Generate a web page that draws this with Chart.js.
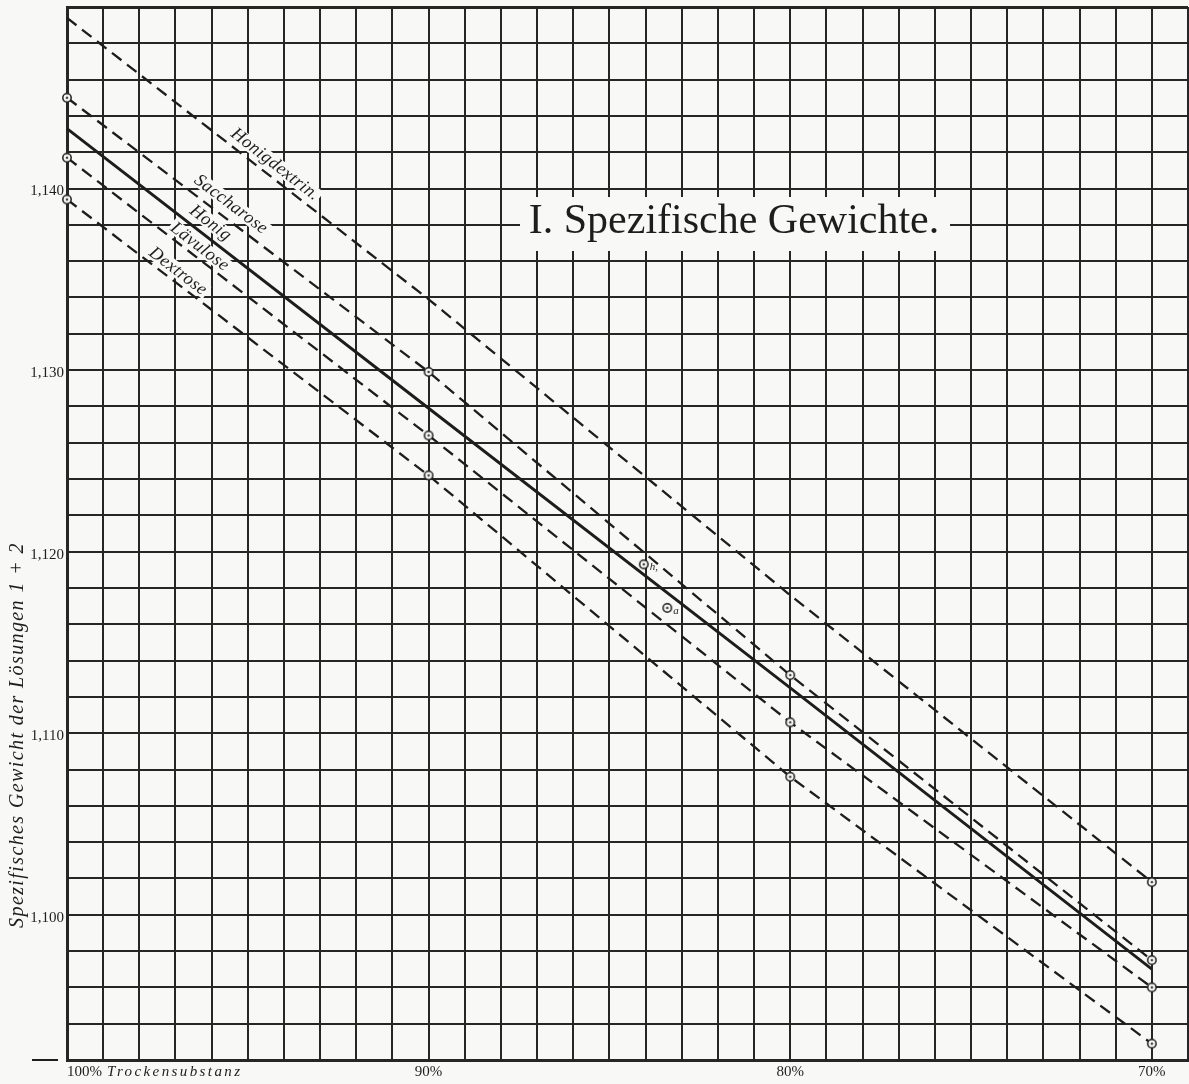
<!DOCTYPE html>
<html>
<head>
<meta charset="utf-8">
<title>I. Spezifische Gewichte</title>
<script src="https://cdn.jsdelivr.net/npm/chart.js@4.4.1/dist/chart.umd.min.js"></script>
<style>
  html, body { margin: 0; padding: 0; background: #f8f8f6; }
  #rahmen { width: 1189px; height: 1084px; }
</style>
</head>
<body>
<div id="rahmen"><canvas id="grafico" width="1189" height="1084"></canvas></div>
<script>
// Trockensubstanz in Prozent (die x-Achse läuft von 100 % nach 70 %)
const trockensubstanz = [100, 90, 80, 70];

const honigdextrin = [1.1494, 1.1339, 1.1176, 1.1018];
const saccharose   = [1.1450, 1.1299, 1.1132, 1.0975];
const honig        = [1.1433, 1.1279, 1.1125, 1.0970];
const laevulose    = [1.1417, 1.1264, 1.1106, 1.0960];
const dextrose     = [1.1394, 1.1242, 1.1076, 1.0929];

// Einzelne Honigproben
const probenX = [84.05, 83.4];
const probenY = [1.1193, 1.1169];
const probenNamen = ['h,', 'a'];

// Achsenbeschriftung
const yTickWerte = [1.100, 1.110, 1.120, 1.130, 1.140];
const yTickTexte = ['1,100', '1,110', '1,120', '1,130', '1,140'];
const xTickWerte = [100, 90, 80, 70];
const xTickTexte = ['100%', '90%', '80%', '70%'];

const PAPIER = '#f8f8f6';
const TINTE = '#1d1d1d';
const GITTER = '#262626';
const SERIF = '"Liberation Serif", "DejaVu Serif", serif';

// Kreis mit Punkt als Messpunkt-Markierung
function kreisMarke() {
    const c = document.createElement('canvas');
    c.width = 12; c.height = 12;
    const g = c.getContext('2d');
    g.beginPath();
    g.arc(6, 6, 4.2, 0, 2 * Math.PI);
    g.fillStyle = PAPIER;
    g.fill();
    g.lineWidth = 1.5;
    g.strokeStyle = TINTE;
    g.stroke();
    g.beginPath();
    g.arc(6, 6, 1.3, 0, 2 * Math.PI);
    g.fillStyle = '#444';
    g.fill();
    return c;
}
const marke = kreisMarke();

function punkte(werte) {
    return trockensubstanz.map((x, i) => ({ x: x, y: werte[i] }));
}

function linie(name, werte, radien, gestrichelt, breite) {
    return {
        label: name,
        data: punkte(werte),
        borderColor: TINTE,
        borderWidth: breite,
        borderDash: gestrichelt ? [12, 7] : [],
        pointStyle: marke,
        pointRadius: radien,
        pointHoverRadius: radien,
        tension: 0,
        fill: false,
        clip: false
    };
}

// Beschriftung an den Linien (Index der Reihe, Stelle in %, Abstand über der Linie)
const linienTexte = [
    { text: 'Honigdextrin.', reihe: 0, bei: 94.45, abstand: 12 },
    { text: 'Saccharose', reihe: 1, bei: 95.7, abstand: 14 },
    { text: 'Honig', reihe: 2, bei: 96.25, abstand: 13 },
    { text: 'Lävulose', reihe: 3, bei: 96.5, abstand: 10 },
    { text: 'Dextrose', reihe: 4, bei: 97.1, abstand: 10 }
];

function passt(v, liste) {
    return liste.findIndex(w => Math.abs(v - w) < 1e-6);
}

const zeichenPlugin = {
    id: 'tafel',
    beforeDraw(chart) {
        const ctx = chart.ctx;
        ctx.save();
        ctx.fillStyle = PAPIER;
        ctx.fillRect(0, 0, chart.width, chart.height);
        ctx.restore();
    },
    beforeDatasetsDraw(chart) {
        const ctx = chart.ctx;
        const xs = chart.scales.x, ys = chart.scales.y;

        // Titelfeld
        ctx.save();
        ctx.fillStyle = PAPIER;
        ctx.fillRect(520, 197, 430, 54);
        ctx.fillStyle = TINTE;
        ctx.font = '42px ' + SERIF;
        ctx.textAlign = 'center';
        ctx.textBaseline = 'alphabetic';
        ctx.fillText('I. Spezifische Gewichte.', 734, 233);
        ctx.restore();

        // Namen entlang der Linien
        linienTexte.forEach(t => {
            const d = chart.data.datasets[t.reihe].data;
            const x0 = xs.getPixelForValue(d[0].x), y0 = ys.getPixelForValue(d[0].y);
            const x1 = xs.getPixelForValue(d[1].x), y1 = ys.getPixelForValue(d[1].y);
            const winkel = Math.atan2(y1 - y0, x1 - x0);
            const px = xs.getPixelForValue(t.bei);
            const py = y0 + (px - x0) / (x1 - x0) * (y1 - y0);
            const cx = px + Math.sin(winkel) * t.abstand;
            const cy = py - Math.cos(winkel) * t.abstand;
            ctx.save();
            ctx.translate(cx, cy);
            ctx.rotate(winkel);
            ctx.font = 'italic 18px ' + SERIF;
            ctx.letterSpacing = '0.5px';
            const b = ctx.measureText(t.text).width;
            ctx.fillStyle = PAPIER;
            ctx.fillRect(-b / 2 - 2, -8, b + 4, 15);
            ctx.fillStyle = TINTE;
            ctx.textAlign = 'center';
            ctx.textBaseline = 'middle';
            ctx.fillText(t.text, 0, 0);
            ctx.restore();
        });
    },
    afterDraw(chart) {
        const ctx = chart.ctx;
        const xs = chart.scales.x, ys = chart.scales.y;
        const unten = chart.chartArea.bottom;

        // x-Beschriftung
        ctx.save();
        ctx.fillStyle = TINTE;
        ctx.textBaseline = 'middle';
        xTickWerte.forEach((w, i) => {
            const px = xs.getPixelForValue(w);
            ctx.font = '15px ' + SERIF;
            if (i === 0) {
                ctx.textAlign = 'left';
                ctx.fillText(xTickTexte[i], px, unten + 12);
                const b = ctx.measureText(xTickTexte[i]).width;
                ctx.font = 'italic 15px ' + SERIF;
                ctx.letterSpacing = '2.4px';
                ctx.fillText('Trockensubstanz', px + b + 5, unten + 12);
                ctx.letterSpacing = '0px';
            } else {
                ctx.textAlign = 'center';
                ctx.fillText(xTickTexte[i], px, unten + 12);
            }
        });
        ctx.restore();

        // kleiner Strich links neben der Grundlinie
        ctx.save();
        ctx.strokeStyle = TINTE;
        ctx.lineWidth = 2;
        ctx.beginPath();
        ctx.moveTo(32, ys.getPixelForValue(ys.min));
        ctx.lineTo(58, ys.getPixelForValue(ys.min));
        ctx.stroke();
        ctx.restore();

        // y-Achsentitel
        ctx.save();
        ctx.translate(18, 735);
        ctx.rotate(-Math.PI / 2);
        ctx.font = 'italic 20px ' + SERIF;
        ctx.letterSpacing = '1.4px';
        ctx.fillStyle = TINTE;
        ctx.textAlign = 'center';
        ctx.textBaseline = 'middle';
        ctx.fillText('Spezifisches Gewicht der Lösungen 1 + 2', 0, 0);
        ctx.restore();

        // Namen der Einzelproben
        const meta = chart.getDatasetMeta(5);
        ctx.save();
        ctx.font = 'italic 11px ' + SERIF;
        ctx.fillStyle = TINTE;
        ctx.textBaseline = 'middle';
        meta.data.forEach((p, i) => {
            ctx.fillText(probenNamen[i], p.x + 6, p.y + 3);
        });
        ctx.restore();
    }
};

new Chart(document.getElementById('grafico'), {
    type: 'line',
    data: {
        datasets: [
            linie('Honigdextrin', honigdextrin, [0, 0, 0, 4], true, 2.3),
            linie('Saccharose', saccharose, [4, 4, 4, 4], true, 2.3),
            linie('Honig', honig, [0, 0, 0, 0], false, 2.9),
            linie('Lävulose', laevulose, [4, 4, 4, 4], true, 2.3),
            linie('Dextrose', dextrose, [4, 4, 4, 4], true, 2.3),
            {
                label: 'Proben',
                data: probenX.map((x, i) => ({ x: x, y: probenY[i] })),
                showLine: false,
                pointStyle: marke,
                pointRadius: 4,
                borderColor: TINTE,
                clip: false
            }
        ]
    },
    options: {
        responsive: false,
        animation: false,
        devicePixelRatio: 1,
        layout: { autoPadding: false, padding: { top: 7, right: 1, left: 0, bottom: 0 } },
        plugins: {
            legend: { display: false },
            tooltip: { enabled: false },
            title: { display: false }
        },
        scales: {
            x: {
                type: 'linear',
                reverse: true,
                min: 69,
                max: 100,
                ticks: { stepSize: 1, display: false, autoSkip: false },
                grid: {
                    color: GITTER,
                    lineWidth: c => (c.tick && (c.tick.value === 69 || c.tick.value === 100)) ? 3 : 2,
                    drawTicks: false
                },
                border: { color: GITTER, width: 3 },
                afterFit: s => {
                    s.height = 24;
                    s.paddingLeft = 0;
                    s.paddingRight = 0;
                }
            },
            y: {
                type: 'linear',
                min: 1.092,
                max: 1.150,
                ticks: {
                    stepSize: 0.002,
                    autoSkip: false,
                    padding: 3,
                    labelOffset: 3,
                    color: TINTE,
                    font: { family: SERIF, size: 15 },
                    callback: v => {
                        const i = passt(v, yTickWerte);
                        return i >= 0 ? yTickTexte[i] : '';
                    }
                },
                grid: {
                    color: GITTER,
                    lineWidth: c => (c.tick && Math.abs(c.tick.value - 1.150) < 1e-6) ? 3 : 2,
                    drawTicks: false
                },
                border: { color: GITTER, width: 3 },
                afterFit: s => {
                    s.width = 67;
                    s.paddingTop = 0;
                    s.paddingBottom = 0;
                }
            }
        }
    },
    plugins: [zeichenPlugin]
});
</script>
</body>
</html>
